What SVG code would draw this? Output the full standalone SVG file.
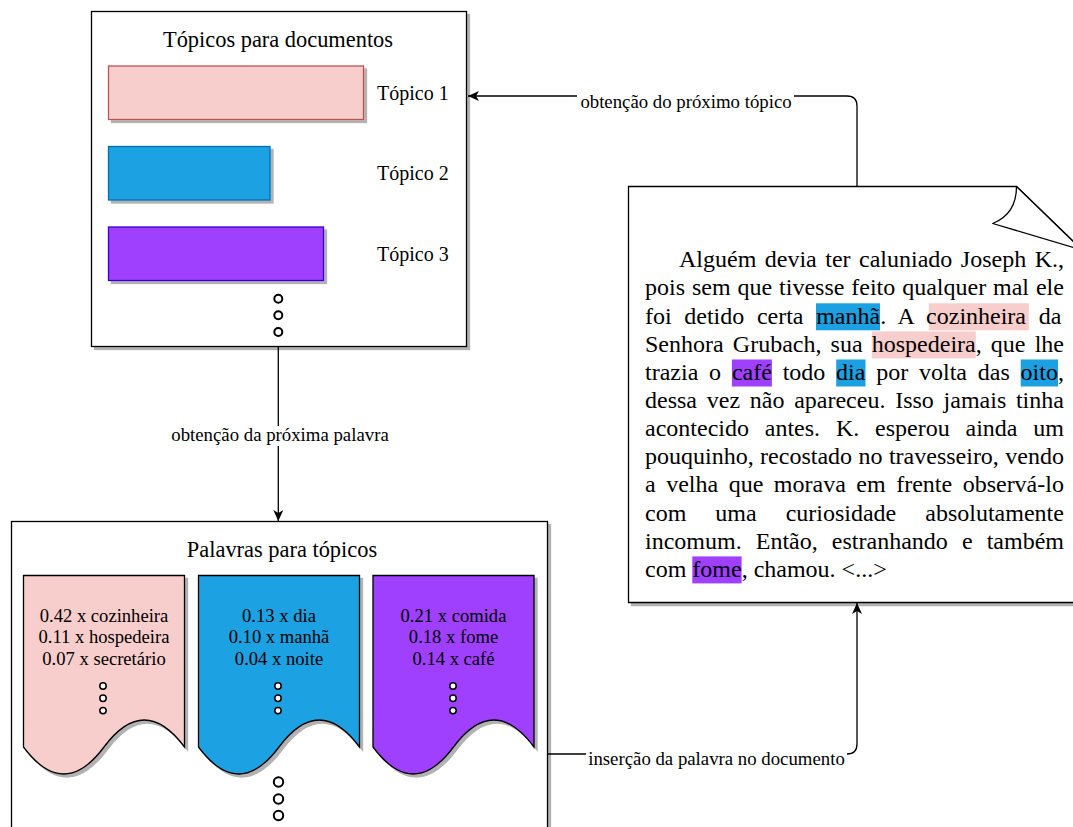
<svg xmlns="http://www.w3.org/2000/svg" width="1073" height="827" viewBox="0 0 1073 827">
<style>
text{font-family:"Liberation Serif","Times New Roman",serif;fill:#000}
.box{fill:#fff;stroke:#000;stroke-width:1.3}
.title{font-size:22.4px;text-anchor:middle}
.tlab{font-size:20px}
.wl{font-size:18.6px;text-anchor:middle}
.clab{font-size:18.8px;text-anchor:middle}
.doc{font-size:24px}
.dot{fill:#fff;stroke:#000}
.edge{fill:none;stroke:#000;stroke-width:1.3}
.pink{fill:#f8cecc}
.blue{fill:#1ba1e2}
.purple{fill:#9f3fff}
</style>
<defs>
<filter id="sh" x="-10%" y="-10%" width="130%" height="130%">
<feDropShadow dx="3" dy="3" stdDeviation="0.6" flood-color="#000" flood-opacity="0.3"/>
</filter>
<marker id="arr" markerWidth="12" markerHeight="10" refX="11" refY="5" orient="auto" markerUnits="userSpaceOnUse">
<path d="M0,0 L11,5 L0,10 L3,5 Z" fill="#000"/>
</marker>
</defs>
<rect width="1073" height="827" fill="#fff"/>

<g id="node-topics">
<rect class="box" x="91.5" y="11.5" width="375" height="335" filter="url(#sh)"/>
<text class="title" x="278" y="47">Tópicos para documentos</text>
<rect x="108.5" y="66" width="255" height="53.5" fill="#f8cecc" stroke="#b85450" stroke-width="1.3" filter="url(#sh)"/>
<rect x="108.5" y="146.5" width="161.5" height="53.5" fill="#1ba1e2" stroke="#006eaf" stroke-width="1.3" filter="url(#sh)"/>
<rect x="108.5" y="227" width="215" height="53.5" fill="#9f3fff" stroke="#3700cc" stroke-width="1.3" filter="url(#sh)"/>
<text class="tlab" x="377" y="100">Tópico 1</text>
<text class="tlab" x="377" y="180">Tópico 2</text>
<text class="tlab" x="377" y="261">Tópico 3</text>
<circle class="dot" cx="278.3" cy="298.7" r="4" stroke-width="2"/>
<circle class="dot" cx="278.3" cy="315.3" r="4" stroke-width="2"/>
<circle class="dot" cx="278.3" cy="332" r="4" stroke-width="2"/>
</g>

<g id="node-words">
<rect class="box" x="11.5" y="521.5" width="536" height="330" filter="url(#sh)"/>
<text class="title" x="282" y="557">Palavras para tópicos</text>
<g id="word-topic-1">
<path d="M23.5,575.5 H184.5 V747 Q144.25,693 104,747 Q63.75,801 23.5,747 Z" fill="#f8cecc" stroke="#000" stroke-width="1.3" filter="url(#sh)"/>
<text class="wl" x="104" y="622">0.42 x cozinheira</text>
<text class="wl" x="104" y="643.3">0.11 x hospedeira</text>
<text class="wl" x="104" y="664.5">0.07 x secretário</text>
<circle class="dot" cx="103" cy="686" r="3.2" stroke-width="1.5"/>
<circle class="dot" cx="103" cy="698.3" r="3.2" stroke-width="1.5"/>
<circle class="dot" cx="103" cy="710.6" r="3.2" stroke-width="1.5"/>
</g>
<g id="word-topic-2">
<path d="M198.5,575.5 H359.5 V747 Q319.25,693 279,747 Q238.75,801 198.5,747 Z" fill="#1ba1e2" stroke="#000" stroke-width="1.3" filter="url(#sh)"/>
<text class="wl" x="279" y="622">0.13 x dia</text>
<text class="wl" x="279" y="643.3">0.10 x manhã</text>
<text class="wl" x="279" y="664.5">0.04 x noite</text>
<circle class="dot" cx="278" cy="686" r="3.2" stroke-width="1.5" fill="#1ba1e2"/>
<circle class="dot" cx="278" cy="698.3" r="3.2" stroke-width="1.5" fill="#1ba1e2"/>
<circle class="dot" cx="278" cy="710.6" r="3.2" stroke-width="1.5" fill="#1ba1e2"/>
</g>
<g id="word-topic-3">
<path d="M373,575.5 H534 V747 Q493.75,693 453.5,747 Q413.25,801 373,747 Z" fill="#9f3fff" stroke="#000" stroke-width="1.3" filter="url(#sh)"/>
<text class="wl" x="453.5" y="622">0.21 x comida</text>
<text class="wl" x="453.5" y="643.3">0.18 x fome</text>
<text class="wl" x="453.5" y="664.5">0.14 x café</text>
<circle class="dot" cx="453" cy="686" r="3.2" stroke-width="1.5" fill="#9f3fff"/>
<circle class="dot" cx="453" cy="698.3" r="3.2" stroke-width="1.5" fill="#9f3fff"/>
<circle class="dot" cx="453" cy="710.6" r="3.2" stroke-width="1.5" fill="#9f3fff"/>
</g>
<circle class="dot" cx="278.5" cy="782" r="4.7" stroke-width="2"/>
<circle class="dot" cx="278.5" cy="799" r="4.7" stroke-width="2"/>
<circle class="dot" cx="278.5" cy="815.5" r="4.7" stroke-width="2"/>
</g>

<g id="node-document">
<path d="M628.5,186.5 H1016.5 L1082,250 V602.5 H628.5 Z" fill="#fff" stroke="#000" stroke-width="1.3" filter="url(#sh)"/>
<path d="M1016.5,186.5 Q1016.5,214 992.7,223.5 L1082,250 Z" fill="#fff" stroke="#000" stroke-width="1.3" stroke-linejoin="round"/>
<rect class="blue" x="816" y="303.3" width="64" height="27"/>
<rect class="pink" x="928.8" y="303.3" width="100" height="27"/>
<rect class="pink" x="871.8" y="331.4" width="104" height="27"/>
<rect class="purple" x="731.9" y="359.5" width="40" height="27"/>
<rect class="blue" x="836.2" y="359.5" width="29.3" height="27"/>
<rect class="blue" x="1020.7" y="359.5" width="37.3" height="27"/>
<rect class="purple" x="692.3" y="556.4" width="49.3" height="27"/>
<text class="doc" x="679" y="267.3" word-spacing="2.48">Alguém devia ter caluniado Joseph K.,</text>
<text class="doc" x="645" y="295.4" word-spacing="0.91">pois sem que tivesse feito qualquer mal ele</text>
<text class="doc" x="645" y="323.6" word-spacing="6.63">foi detido certa manhã. A cozinheira da</text>
<text class="doc" x="645" y="351.7" word-spacing="3.16">Senhora Grubach, sua hospedeira, que lhe</text>
<text class="doc" x="645" y="379.8" word-spacing="4.8">trazia o café todo dia por volta das oito,</text>
<text class="doc" x="645" y="407.95" word-spacing="3.74">dessa vez não apareceu. Isso jamais tinha</text>
<text class="doc" x="645" y="436.1" word-spacing="9.82">acontecido antes. K. esperou ainda um</text>
<text class="doc" x="645" y="464.2" word-spacing="0.43">pouquinho, recostado no travesseiro, vendo</text>
<text class="doc" x="645" y="492.3" word-spacing="4.52">a velha que morava em frente observá-lo</text>
<text class="doc" x="645" y="520.5" word-spacing="23">com uma curiosidade absolutamente</text>
<text class="doc" x="645" y="548.6" word-spacing="8.1">incomum. Então, estranhando e também</text>
<text class="doc" x="645" y="576.7">com fome, chamou. &lt;...&gt;</text>
</g>

<g id="connectors">
<path class="edge" d="M857,186 V106 Q857,96 847,96 H468" marker-end="url(#arr)"/>
<rect x="577" y="89" width="217" height="22" fill="#fff"/>
<text class="clab" x="686" y="108">obtenção do próximo tópico</text>
<path class="edge" d="M278.3,347 V521" marker-end="url(#arr)"/>
<rect x="169" y="426" width="222" height="20" fill="#fff"/>
<text class="clab" x="280" y="441">obtenção da próxima palavra</text>
<path class="edge" d="M548,754 H847 Q857,754 857,744 V603" marker-end="url(#arr)"/>
<rect x="586" y="747" width="261" height="22" fill="#fff"/>
<text class="clab" x="716.5" y="765">inserção da palavra no documento</text>
</g>
</svg>
